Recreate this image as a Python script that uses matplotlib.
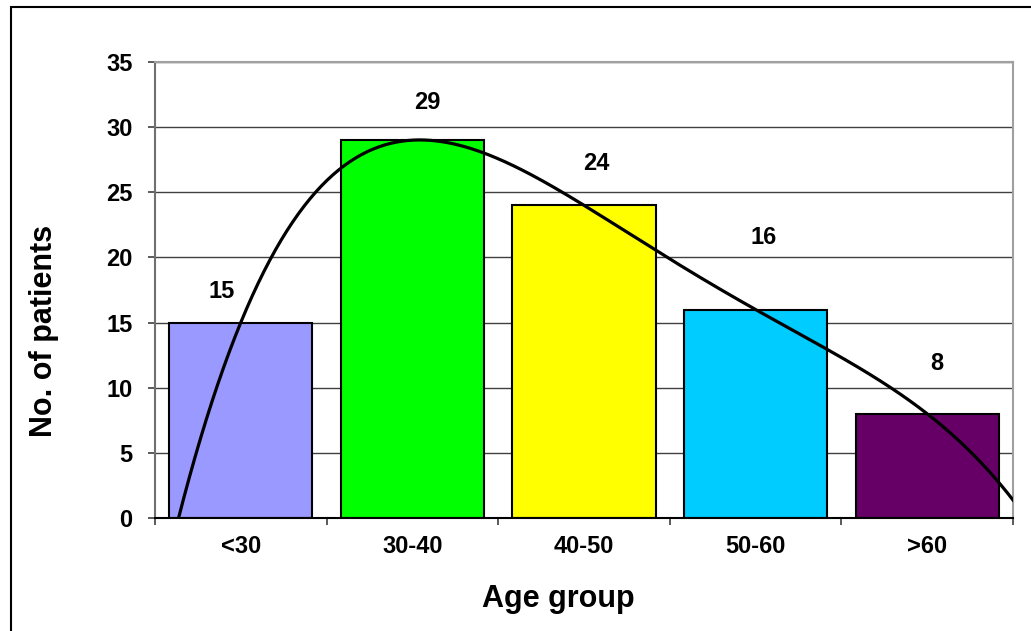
import numpy as np
import matplotlib.pyplot as plt
from matplotlib.patches import Rectangle

plt.rcParams['font.family'] = ['Liberation Sans', 'DejaVu Sans']
plt.rcParams['font.weight'] = 'bold'

groups = ['<30', '30-40', '40-50', '50-60', '>60']
patients = [15, 29, 24, 16, 8]
bar_colors = ['#9999FF', '#00FF00', '#FFFF00', '#00CCFF', '#660066']

# label nudges in points (hand-placed in the original)
label_dx = [-14, 11, 9, 6, 7]
label_dy = [22, 27, 30, 52, 36]

fig = plt.figure(figsize=(10.31, 6.31), dpi=100)
ax = fig.add_axes([0.1503, 0.1791, 0.8322, 0.7227])

x = np.arange(len(groups))
ax.bar(x, patients, width=0.835, color=bar_colors, edgecolor='black',
       linewidth=1.5, zorder=2)

# polynomial trendline (order 4) like Excel
coef = np.polyfit(x, patients, 4)
xs = np.linspace(-0.5, 4.5, 300)
ax.plot(xs, np.polyval(coef, xs), color='black', lw=2.3, zorder=3)

for i, v in enumerate(patients):
    ax.annotate(str(v), (x[i], v), xytext=(label_dx[i], label_dy[i]),
                textcoords='offset points', ha='center', va='center',
                fontsize=17, fontweight='bold')

ax.set_xlim(-0.5, 4.5)
ax.set_ylim(0, 35)
ax.set_yticks(np.arange(0, 36, 5))
ax.yaxis.grid(True, color='#404040', lw=1, zorder=0)
ax.set_axisbelow(True)

ax.set_xticks(np.arange(-0.5, 5, 1))
ax.set_xticklabels([])
ax.set_xticks(x, minor=True)
ax.set_xticklabels(groups, minor=True)
ax.tick_params(axis='x', which='major', length=5, width=1.2, color='#404040')
ax.tick_params(axis='x', which='minor', length=0, pad=12, labelsize=17)
ax.tick_params(axis='y', length=5, width=1.2, color='#404040', pad=11,
               labelsize=17)

for s in ['top', 'right']:
    ax.spines[s].set_color('#a0a0a0')
    ax.spines[s].set_linewidth(1.5)
ax.spines['left'].set_color('#707070')
ax.spines['left'].set_linewidth(1.5)
ax.spines['bottom'].set_color('black')
ax.spines['bottom'].set_linewidth(1.5)

ax.set_xlabel('Age group', fontsize=22, fontweight='bold')
ax.set_ylabel('No. of patients', fontsize=22, fontweight='bold')
ax.xaxis.set_label_coords(0.47, -0.145)
ax.yaxis.set_label_coords(-0.112, 0.41)

fig.patches.append(Rectangle((11 / 1031, -0.1), 1.2, 1.1 - 7 / 631,
                             transform=fig.transFigure, fill=False,
                             edgecolor='black', lw=1.5))

fig.savefig('out.png', dpi=100)
